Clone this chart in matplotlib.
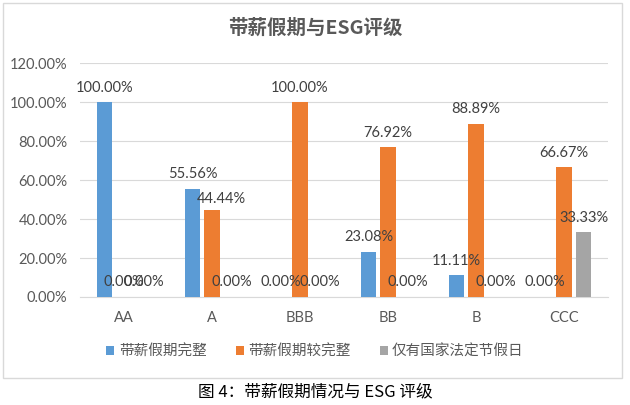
import matplotlib
matplotlib.use("Agg")
import matplotlib.pyplot as plt
from matplotlib.patches import Rectangle
import numpy as np

plt.rcParams['font.family'] = ['Noto Sans CJK SC', 'DejaVu Sans']
LAT = ['Lato', 'Noto Sans CJK SC']

categories = ["AA", "A", "BBB", "BB", "B", "CCC"]
series_names = ["带薪假期完整", "带薪假期较完整", "仅有国家法定节假日"]
full = [100.00, 55.56, 0.00, 23.08, 11.11, 0.00]
mostly = [0.00, 44.44, 100.00, 76.92, 88.89, 66.67]
statutory_only = [0.00, 0.00, 0.00, 0.00, 0.00, 33.33]
colors = ["#5B9BD5", "#ED7D31", "#A5A5A5"]
yticks = [0, 20, 40, 60, 80, 100, 120]

fig = plt.figure(figsize=(6.3, 4.05), dpi=100)
fig.patch.set_facecolor("white")
fig.patches.append(Rectangle((3/630, 1-378/405), 619/630, 375/405,
                             transform=fig.transFigure, fill=False,
                             edgecolor="#D9D9D9", linewidth=1))

ax = fig.add_axes([80/630, 1-297/405, (608-80)/630, (297-63.4)/405])
x = np.arange(len(categories))
width = 0.18
offset = 0.222
series = [full, mostly, statutory_only]
# per-label nudges (pixels) mimicking the reference's label placement
nudges = {(1, 1): (9, -3)}
for i, (vals, c, name) in enumerate(zip(series, colors, series_names)):
    pos = x + (i - 1) * offset
    ax.bar(pos, vals, width=width, color=c, label=name, zorder=3)
    for j, (p, v) in enumerate(zip(pos, vals)):
        dx, dy = nudges.get((i, j), (0, 0))
        ax.annotate(f"{v:.2f}%", (p, v), xytext=(dx * 0.72, 10.5 + dy * 0.72),
                    textcoords="offset points", ha="center", va="center",
                    fontsize=10.5, color="#404040", zorder=4, family=LAT)

ax.set_ylim(0, 120)
ax.set_xlim(-0.5, len(categories) - 0.5)
ax.set_yticks(yticks)
ax.set_yticklabels([f"{t:.2f}%" for t in yticks], fontsize=10.5, color="#595959", family=LAT)
ax.set_xticks(x)
ax.set_xticklabels(categories, fontsize=10.5, color="#595959", family=LAT)
ax.tick_params(axis="y", length=0, pad=9)
ax.tick_params(axis="x", length=0, pad=10)
ax.grid(axis="y", color="#D9D9D9", linewidth=0.8, zorder=0)
for s in ["top", "right", "left"]:
    ax.spines[s].set_visible(False)
ax.spines["bottom"].set_color("#D9D9D9")

fig.text(0.5, 1-28/405, "带薪假期与ESG评级", ha="center", va="center",
         fontsize=14, fontweight="bold", color="#595959")

leg = fig.legend(loc="center", bbox_to_anchor=(0.5, 1-352/405), ncol=3,
                 frameon=False, fontsize=10.5, handlelength=0.55, handleheight=0.55,
                 handletextpad=0.3, columnspacing=2.0)
for t in leg.get_texts():
    t.set_color("#595959")

fig.text(0.5, 1-392/405, "图 4：带薪假期情况与 ESG 评级", ha="center", va="center",
         fontsize=12, color="#000000")

fig.savefig("out.png", dpi=100, facecolor="white")
